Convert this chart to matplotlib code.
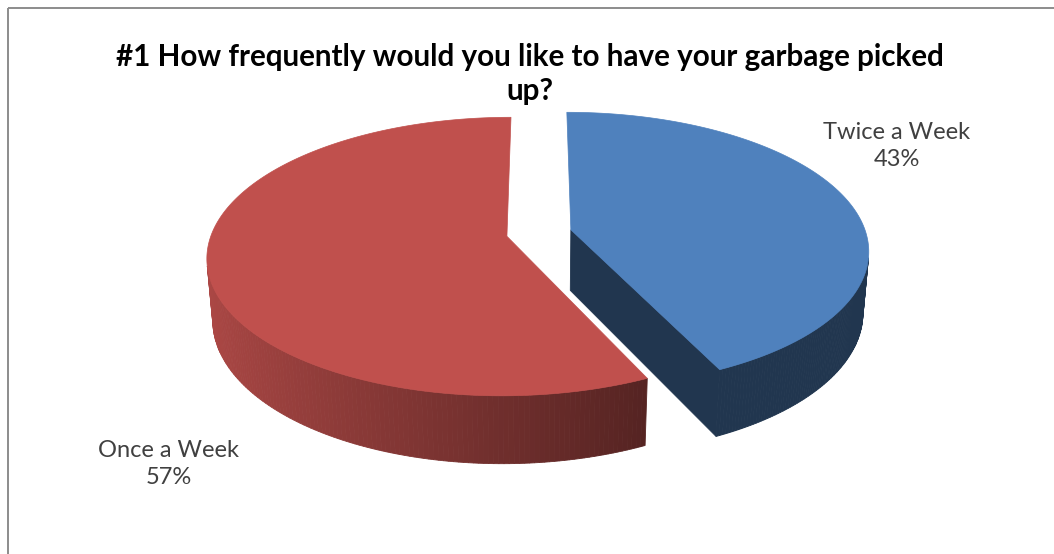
import numpy as np
import matplotlib
matplotlib.use("Agg")
import matplotlib.pyplot as plt
from matplotlib.patches import Polygon

# ---- chart content ----
title = "#1 How frequently would you like to have your garbage picked\nup?"
categories = ["Twice a Week", "Once a Week"]
shares = [43, 57]                       # percent
top_colors = ["#4F81BD", "#C0504D"]
label_xy = [(897, 146), (169, 464)]     # label anchor (pixels)

W, H = 1054, 554
fig = plt.figure(figsize=(W / 100, H / 100), dpi=100)
ax = fig.add_axes([0, 0, 1, 1])
ax.set_xlim(0, W)
ax.set_ylim(H, 0)
ax.axis("off")

# ---- 3-D view of the pie (perspective projection) ----
tilt = np.radians(27.3)
ct, st = np.cos(tilt), np.sin(tilt)
dist, focal = 6.13, 1809.0
cx, cy = 539.0, 233.0
thick, explode = 0.236, 0.111
camera = np.array([0.0, -dist * ct, dist * st])


def project(X, Y, Z):
    den = dist + Y * ct - Z * st
    return cx + focal * X / den, cy - focal * (Y * st + Z * ct) / den


def to_rgb(hexcol):
    return np.array(matplotlib.colors.to_rgb(hexcol))


def facing(normal, point, eps=0.0):
    return np.dot(normal, camera - point) > eps


side_patches = []
top_patches = []

edges = np.concatenate([[0], np.cumsum(shares)]) / sum(shares) * 360.0
for i, (cat, val) in enumerate(zip(categories, shares)):
    t1, t2 = edges[i], edges[i + 1]
    mid = np.radians((t1 + t2) / 2)
    ox, oy = explode * np.sin(mid), explode * np.cos(mid)
    base = to_rgb(top_colors[i])

    # outer wall, drawn as thin shaded strips
    th = np.radians(np.linspace(t1, t2, 240))
    for a, b in zip(th[:-1], th[1:]):
        m = (a + b) / 2
        n = np.array([np.sin(m), np.cos(m), 0.0])
        p = np.array([ox + np.sin(m), oy + np.cos(m), -thick / 2])
        if not facing(n, p):
            continue
        if i == 1:
            shade = 0.58 - 0.32 * np.sin(m)
        else:
            shade = 0.42
        col = np.clip(base * shade, 0, 1)
        xs, ys = zip(
            project(ox + np.sin(a), oy + np.cos(a), 0),
            project(ox + np.sin(b), oy + np.cos(b), 0),
            project(ox + np.sin(b), oy + np.cos(b), -thick),
            project(ox + np.sin(a), oy + np.cos(a), -thick),
        )
        side_patches.append(Polygon(np.column_stack([xs, ys]), closed=True,
                                    facecolor=col, edgecolor=col, lw=0.6))

    # radial cut faces (edge-on slivers are skipped)
    for t, sgn in ((t1, -1), (t2, 1)):
        tr = np.radians(t)
        nr = np.radians(t + sgn * 90)
        n = np.array([np.sin(nr), np.cos(nr), 0.0])
        p = np.array([ox + 0.5 * np.sin(tr), oy + 0.5 * np.cos(tr), -thick / 2])
        if not facing(n, p, eps=0.3):
            continue
        col = np.clip(base * 0.42, 0, 1)
        xs, ys = zip(
            project(ox, oy, 0),
            project(ox + np.sin(tr), oy + np.cos(tr), 0),
            project(ox + np.sin(tr), oy + np.cos(tr), -thick),
            project(ox, oy, -thick),
        )
        side_patches.append(Polygon(np.column_stack([xs, ys]), closed=True,
                                    facecolor=col, edgecolor=col, lw=0.6))

    # top face
    tt = np.radians(np.linspace(t1, t2, 300))
    px, py = project(ox + np.sin(tt), oy + np.cos(tt), 0 * tt)
    ax0, ay0 = project(ox, oy, 0)
    poly = np.column_stack([np.r_[ax0, px], np.r_[ay0, py]])
    top_patches.append(Polygon(poly, closed=True, facecolor=base,
                               edgecolor=base, lw=0.5))

    # data label
    lx, ly = label_xy[i]
    ax.text(lx, ly, f"{cat}\n{val}%", ha="center", va="center",
            fontsize=17, family="Lato", color="#404040", linespacing=1.35)

for p in side_patches + top_patches:
    ax.add_patch(p)

ax.text(530, 74, title, ha="center", va="center", fontsize=21.3,
        family="Lato", weight="bold", color="black", linespacing=1.3)

# chart frame (top and left edges)
ax.plot([8, W], [7.5, 7.5], color="#8C8C8C", lw=1.4, solid_capstyle="butt")
ax.plot([8, 8], [7.5, H], color="#8C8C8C", lw=1.4, solid_capstyle="butt")

fig.savefig("out.png", dpi=100)
